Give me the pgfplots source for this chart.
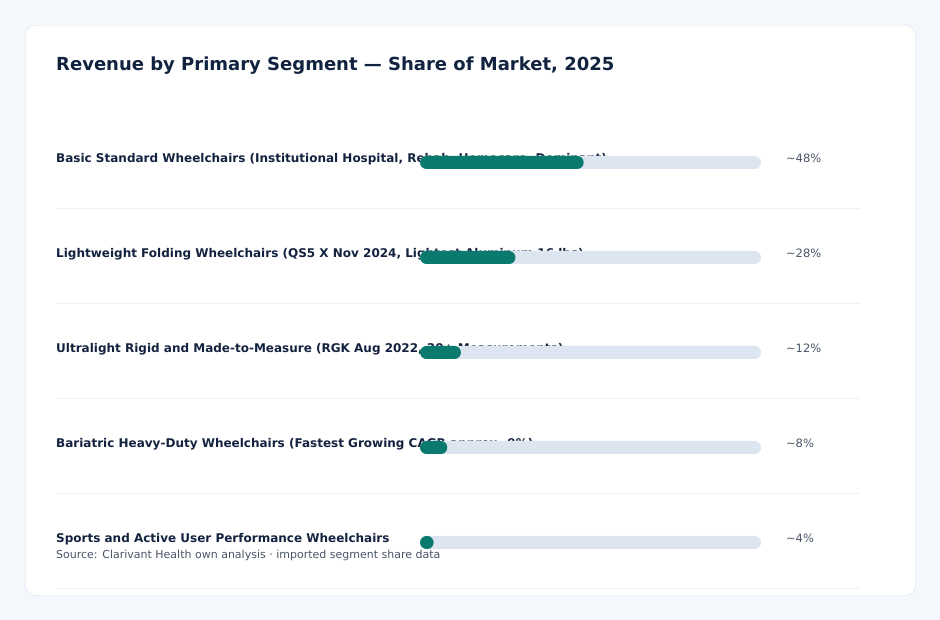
\documentclass[border=0pt]{standalone}
\usepackage{pgfplots}
\pgfplotsset{compat=1.18}
\usepackage{fontspec}
\setmainfont{DejaVu Sans}
\definecolor{bgc}{HTML}{F4F7FB}
\definecolor{cardborder}{HTML}{DCE2EA}
\definecolor{sepc}{HTML}{EEF1F5}
\definecolor{titlec}{HTML}{11233F}
\definecolor{labelc}{HTML}{13233F}
\definecolor{valc}{HTML}{4A5568}
\definecolor{trackc}{HTML}{DCE5F0}
\definecolor{fillc}{HTML}{0A7A6E}
\begin{document}
\begin{tikzpicture}[x=1pt,y=1pt]
\fill[bgc] (0,0) rectangle (940,620);
\draw[cardborder, fill=white, rounded corners=10pt] (25.5,594.5) rectangle (915.5,24.5);
\node[anchor=base west, inner sep=0, text=titlec, font=\fontsize{18}{22}\selectfont\bfseries] at (56,549) {Revenue by Primary Segment — Share of Market, 2025};
\foreach \y in {208.5,303.5,398.5,493.5,588.5} \draw[sepc, line width=1pt] (56,620-\y) -- (860,620-\y);
\begin{scope}[every node/.style={anchor=base west, inner sep=0, text=labelc, font=\fontsize{12}{14}\selectfont\bfseries}]
\node at (56,620-162.5) {Basic Standard Wheelchairs (Institutional Hospital, Rehab, Homecare, Dominant)};
\node at (56,620-257.5) {Lightweight Folding Wheelchairs (QS5 X Nov 2024, Lightest Aluminum 16 lbs)};
\node at (56,620-352.5) {Ultralight Rigid and Made-to-Measure (RGK Aug 2022, 30+ Measurements)};
\node at (56,620-447.5) {Bariatric Heavy-Duty Wheelchairs (Fastest Growing CAGR approx. 9\%)};
\node at (56,620-542.5) {Sports and Active User Performance Wheelchairs};
\end{scope}
\node[anchor=base west, inner sep=0, text=valc, font=\fontsize{11}{13}\selectfont] at (56,620-558.5) {Source: Clarivant Health own analysis · imported segment share data};
\begin{axis}[at={(420pt,30pt)}, anchor=south west, scale only axis, width=341pt, height=475pt,
  xmin=0, xmax=100, ymin=0.5, ymax=5.5, y dir=reverse, hide axis, clip=false,
  xbar, bar width=13pt]
\addplot[draw=none, fill=trackc, rounded corners=6.5pt, bar shift=0pt] coordinates {(100,1) (100,2) (100,3) (100,4) (100,5)};
\addplot[draw=none, fill=fillc, rounded corners=6.5pt, bar shift=0pt] coordinates {(48,1) (28,2) (12,3) (8,4) (4,5)};
\foreach \v/\r in {48/1,28/2,12/3,8/4,4/5}{
  \edef\tmp{\noexpand\node[anchor=base west, inner sep=0, text=valc, font=\noexpand\fontsize{11.5}{14}\noexpand\selectfont] at (axis cs:107.3,\r) [yshift=0pt] {\noexpand\textasciitilde\v\noexpand\%};}
  \tmp
}
\end{axis}
\end{tikzpicture}
\end{document}
